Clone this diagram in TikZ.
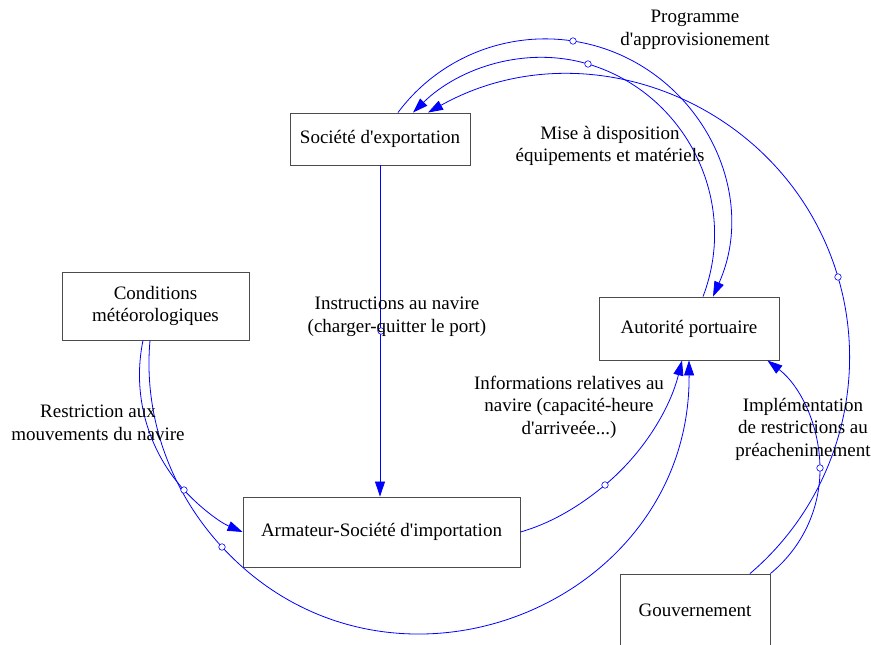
\documentclass[tikz,border=0pt]{standalone}
\usepackage{fontspec}
\setmainfont{Liberation Serif}
\usetikzlibrary{arrows.meta}
\newcommand{\ap}{\textquotesingle}
\tikzset{
  box/.style={draw=black!70, line width=0.9pt, fill=white, inner sep=0pt, align=center},
  lab/.style={align=center, inner sep=0pt},
  handle/.style={circle, draw=blue, fill=white, line width=0.6pt, minimum size=6.5pt, inner sep=0pt},
  link/.style={draw=blue, line width=0.8pt, -{Triangle[length=15pt,width=10pt]}},
}
\begin{document}
\begin{tikzpicture}[x=1pt,y=1pt,font=\fontsize{19}{22.5}\selectfont]
\useasboundingbox (0,0) rectangle (871,-645);
% boxes
\node[box, minimum width=180pt, minimum height=52pt] (soc) at (380,-139) {Société d\ap exportation};
\node[box, minimum width=187pt, minimum height=68pt] (cond) at (155.5,-306) {Conditions\\météorologiques};
\node[box, minimum width=180pt, minimum height=63pt] (aut) at (689,-328.5) {Autorité portuaire};
\node[box, minimum width=277pt, minimum height=70pt] (arm) at (381.5,-532) {Armateur-Société d\ap importation};
\node[box, minimum width=150pt, minimum height=72pt] (gov) at (695,-610) {Gouvernement};
% handle positions
\coordinate (p1) at (381,-331);
\coordinate (p2) at (605,-485);
\coordinate (p3) at (184,-490);
\coordinate (p4) at (222,-547);
\coordinate (p5) at (820,-468);
\coordinate (p6) at (838,-277);
\coordinate (p7) at (573,-41);
\coordinate (p8) at (588,-64);
% connectors
\draw[link] (soc.south) -- (soc.south |- arm.north);
\draw[link] (arm.east) to[out=16,in=219.8,looseness=0.86] (p2) to[out=39.8,in=256.1,looseness=0.87] ([xshift=-7pt]aut.south);
\draw[link] ([xshift=-12.5pt]cond.south) to[out=258.3,in=132.3,looseness=0.9] (p3) to[out=312.3,in=156.8,looseness=0.86] (arm.west);
\draw[link] ([xshift=-5.5pt]cond.south) to[out=264.9,in=132.75,looseness=0.89] (p4) to[out=312.75,in=270.4,looseness=1.25] (aut.south);
\draw[link] (gov.north east) to[out=39.4,in=270.5,looseness=0.9] (p5) to[out=90.5,in=322.2,looseness=0.9] ([xshift=-12pt]aut.south east);
\draw[link] ([xshift=55pt]gov.north) to[out=40.4,in=286.5,looseness=0.925] (p6) to[out=106.5,in=29.2,looseness=1.05] ([xshift=48pt]soc.north);
\draw[link] ([xshift=18pt]soc.north) to[out=53.4,in=171.3,looseness=0.916] (p7) to[out=351.3,in=66,looseness=1.06] ([xshift=24pt]aut.north);
\draw[link] ([xshift=14pt]aut.north) to[out=69,in=343.4,looseness=1.01] (p8) to[out=163.4,in=44.3,looseness=0.91] ([xshift=33pt]soc.north);
% handles
\foreach \i in {1,...,8} \node[handle] (h\i) at (p\i) {};
% labels
\node[lab] (l7) at (695,-30) {Programme\\d\ap approvisionement};
\node[lab] (l8) at (610,-146) {Mise à disposition\\équipements et matériels};
\node[lab] (l1) at (397,-317) {Instructions au navire\\(charger-quitter le port)};
\node[lab] (l3) at (98,-423) {Restriction aux\\mouvements du navire};
\node[lab] (l2) at (569,-407) {Informations relatives au\\navire (capacité-heure\\d\ap arriveée...)};
\node[lab] (l5) at (803,-429) {Implémentation\\de restrictions au\\préachenimement};
\end{tikzpicture}
\end{document}
